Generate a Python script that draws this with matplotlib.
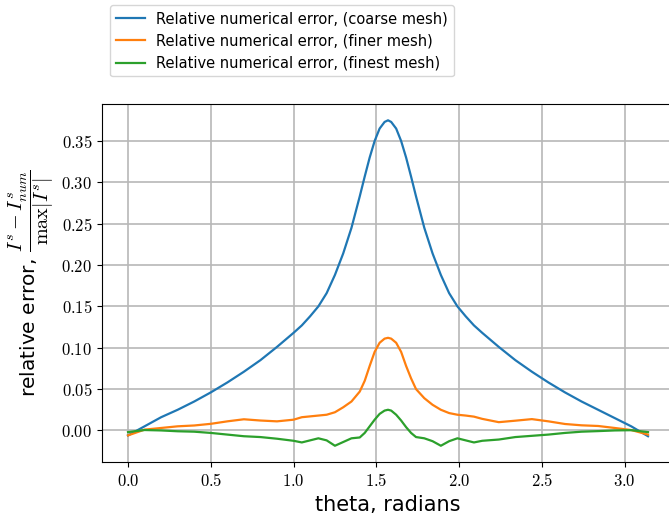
import matplotlib
matplotlib.use("Agg")
import matplotlib.pyplot as plt
from matplotlib.ticker import FuncFormatter

plt.rcParams["mathtext.fontset"] = "cm"
plt.rcParams["font.family"] = "DejaVu Sans"

# sample angles (radians)
theta = [0.0, 0.1, 0.2, 0.3, 0.4, 0.5, 0.6, 0.7, 0.8, 0.9, 1.0, 1.05, 1.1, 1.15,
         1.2, 1.25, 1.3, 1.35, 1.4, 1.43, 1.46, 1.49, 1.52, 1.55, 1.5708,
         1.59, 1.62, 1.65, 1.68, 1.71, 1.74, 1.79, 1.84, 1.89, 1.94, 1.99, 2.04,
         2.09, 2.14, 2.24, 2.34, 2.44, 2.54, 2.64, 2.74, 2.84, 2.94, 3.04, 3.1416]

err_coarse = [-0.006, 0.005, 0.016, 0.025, 0.035, 0.046, 0.058, 0.071, 0.085, 0.101,
              0.118, 0.127, 0.138, 0.150, 0.166, 0.188, 0.214, 0.245, 0.283, 0.307,
              0.330, 0.350, 0.365, 0.373, 0.375,
              0.373, 0.365, 0.350, 0.330, 0.307, 0.283, 0.245, 0.214, 0.188, 0.166,
              0.150, 0.138, 0.127, 0.118, 0.101, 0.085, 0.071, 0.058, 0.046, 0.035,
              0.025, 0.015, 0.005, -0.007]

err_finer = [-0.006, 0.001, 0.003, 0.005, 0.006, 0.008, 0.011, 0.0135, 0.012, 0.011,
             0.013, 0.016, 0.017, 0.018, 0.019, 0.022, 0.028, 0.035, 0.047, 0.060,
             0.078, 0.095, 0.106, 0.111, 0.112,
             0.111, 0.106, 0.095, 0.078, 0.063, 0.050, 0.039, 0.031, 0.025, 0.021,
             0.019, 0.018, 0.0167, 0.014, 0.010, 0.0118, 0.0137, 0.011, 0.0078, 0.0062,
             0.0054, 0.003, 0.0005, -0.005]

err_finest = [-0.002, 0.0005, 0.0, -0.001, -0.0015, -0.003, -0.005, -0.007, -0.008, -0.010,
              -0.0125, -0.0145, -0.012, -0.0095, -0.012, -0.0185, -0.014, -0.0095, -0.0085, -0.003,
              0.005, 0.013, 0.020, 0.024, 0.025,
              0.024, 0.019, 0.012, 0.004, -0.003, -0.008, -0.0095, -0.013, -0.0185, -0.013,
              -0.0095, -0.012, -0.0145, -0.0125, -0.011, -0.008, -0.0065, -0.005, -0.003, -0.0015,
              -0.0008, 0.0, 0.0003, -0.002]

labels = ["Relative numerical error, (coarse mesh)",
          "Relative numerical error, (finer mesh)",
          "Relative numerical error, (finest mesh)"]

fig = plt.figure(figsize=(6.69, 5.23), dpi=100)
ax = fig.add_axes([0.1525, 0.1166, 0.855, 0.6845])

for ys, lab in zip([err_coarse, err_finer, err_finest], labels):
    ax.plot(theta, ys, lw=1.6, label=lab)

ax.grid(True, color="#b8b8b8", lw=1.2)
ax.set_axisbelow(True)
ax.set_yticks([0.0, 0.05, 0.10, 0.15, 0.20, 0.25, 0.30, 0.35])
ax.xaxis.set_major_formatter(FuncFormatter(lambda v, p: rf"${v:.1f}$"))
ax.yaxis.set_major_formatter(FuncFormatter(lambda v, p: rf"${v:.2f}$"))
ax.tick_params(labelsize=12)
ax.set_xlabel("theta, radians", fontsize=15)
ax.set_ylabel(r"relative error, $\dfrac{I^s - I^s_{num}}{\max|I^s|}$", fontsize=14.5)

fig.legend(loc="upper left", bbox_to_anchor=(0.164, 0.99), borderaxespad=0,
           fontsize=10.5)

fig.savefig("out.png", dpi=100)
